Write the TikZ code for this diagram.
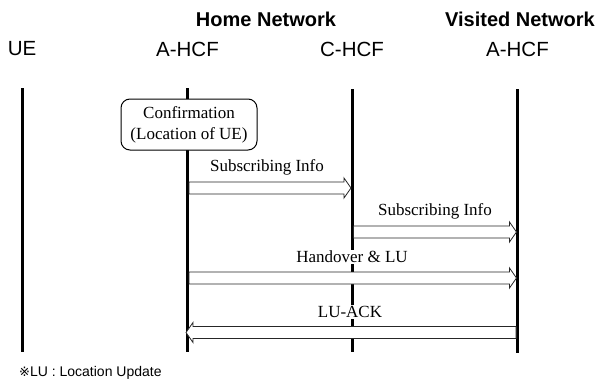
\documentclass[tikz,border=0pt]{standalone}
\usepackage{fontspec}
\setmainfont{Liberation Serif}
\newfontfamily\hdrfont{Liberation Sans}
\newfontfamily\symfont{DejaVu Sans}
\usetikzlibrary{calc}
\tikzset{
  hdr/.style={font=\hdrfont\fontsize{20.5}{23}\selectfont, inner sep=0pt},
  net/.style={font=\hdrfont\bfseries\fontsize{20}{23}\selectfont, inner sep=0pt},
  lbl/.style={font=\fontsize{17}{20}\selectfont, inner sep=1.5pt, fill=white},
  life/.style={line width=3pt, black},
  msg/.style={line width=0.8pt, draw=black!85, fill=white, line join=miter},
  conf/.style={draw, line width=1pt, rounded corners=9pt, fill=white, minimum width=136pt, minimum height=51pt, align=center, inner sep=0pt, font=\fontsize{17}{20}\selectfont}
}
\newcommand{\hollowarr}[2]{% #1 tail coordinate, #2 tip coordinate
  \draw[msg] let \p1=(#1), \p2=(#2), \n1={sign(\x2-\x1)} in
    (\x1,\y1+6pt) -- (\x2-7pt*\n1,\y1+6pt) -- (\x2-7pt*\n1,\y1+10pt) -- (\x2,\y2)
    -- (\x2-7pt*\n1,\y1-10pt) -- (\x2-7pt*\n1,\y1-6pt) -- (\x1,\y1-6pt) -- cycle;}
\begin{document}
\begin{tikzpicture}[x=1pt,y=-1pt]
\useasboundingbox (0,0) rectangle (597,383);
% headers
\node[net] (home) at (266,19) {Home Network};
\node[net] (visited) at (520,19) {Visited Network};
\node[hdr] (ue) at (22,49) {UE};
\node[hdr] (ahcf) at (187.5,49) {A-HCF};
\node[hdr] (chcf) at (352,49) {C-HCF};
\node[hdr] (vhcf) at (517.5,49) {A-HCF};
% lifelines
\coordinate (ue1) at (22,88);   \coordinate (ue2) at (22,352);
\coordinate (ah1) at (187.5,88); \coordinate (ah2) at (187.5,352);
\coordinate (ch1) at (352,89);  \coordinate (ch2) at (352,352);
\coordinate (vh1) at (517.5,89); \coordinate (vh2) at (517.5,353);
\draw[life] (ue1) -- (ue2);
\draw[life] (ah1) -- (ah2);
\draw[life] (ch1) -- (ch2);
\draw[life] (vh1) -- (vh2);
% confirmation box
\node[conf] (confirm) at (189,124.5) {Confirmation\\[1pt](Location of UE)};
% messages
\coordinate (m1s) at (189,188);   \coordinate (m1t) at (351,188);
\coordinate (m2s) at (353.5,232); \coordinate (m2t) at (516.5,232);
\coordinate (m3s) at (189,278);   \coordinate (m3t) at (516.5,278);
\coordinate (m4s) at (516,332.5); \coordinate (m4t) at (186,332.5);
\hollowarr{m1s}{m1t}
\hollowarr{m2s}{m2t}
\hollowarr{m3s}{m3t}
\hollowarr{m4s}{m4t}
\node[lbl] (l1) at (267,167) {Subscribing Info};
\node[lbl] (l2) at (435,211) {Subscribing Info};
\node[lbl] (l3) at (352,257) {Handover \& LU};
\node[lbl] (l4) at (350,312) {LU-ACK};
% footnote
\node[anchor=west, inner sep=0pt, font=\hdrfont\fontsize{14}{16}\selectfont] (note) at (19,373) {{\symfont\fontsize{13}{15}\selectfont ※}LU : Location Update};
\end{tikzpicture}
\end{document}
